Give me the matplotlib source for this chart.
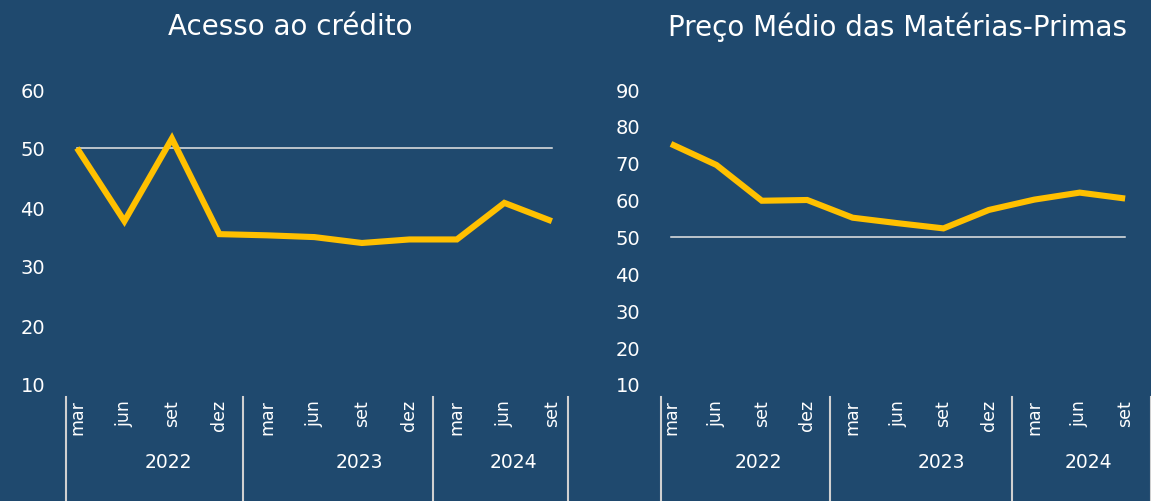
import matplotlib
matplotlib.use("Agg")
import matplotlib.pyplot as plt
from matplotlib.transforms import blended_transform_factory

months = ["mar", "jun", "set", "dez", "mar", "jun", "set", "dez", "mar", "jun", "set"]
years = ["2022", "2023", "2024"]
credito = [50.0, 37.6, 51.6, 35.4, 35.2, 34.9, 33.9, 34.5, 34.5, 40.7, 37.6]
materias = [75.1, 69.4, 59.7, 59.9, 55.1, 53.6, 52.2, 57.2, 60.0, 61.9, 60.3]
threshold = [50] * len(months)

BG = "#1F496E"
YEL = "#FFC000"
FG = "#FFFFFF"
SEP = "#D0D0D0"

fig = plt.figure(figsize=(11.51, 5.02), dpi=100, facecolor=BG)

H = 502.0
W = 1151.0
bot = 1 - 385 / H
top = 1 - 90 / H

panels = [
    dict(title="Acesso ao crédito", data=credito, ylim=(10, 60), yt=range(10, 61, 10),
         left=66, right=568, x0=-0.23, x1=10.34, tx=290),
    dict(title="Preço Médio das Matérias-Primas", data=materias, ylim=(10, 90), yt=range(10, 91, 10),
         left=661, right=1151, x0=-0.22, x1=10.57, tx=898),
]

for p in panels:
    ax = fig.add_axes([p["left"] / W, bot, (p["right"] - p["left"]) / W, top - bot])
    ax.set_facecolor(BG)
    x = list(range(len(months)))
    ax.plot(x, threshold, color="#E6E6E6", lw=1.1, zorder=2)
    ax.plot(x, p["data"], color=YEL, lw=4.4, solid_joinstyle="miter", solid_capstyle="butt", zorder=3)
    ax.set_xlim(p["x0"], p["x1"])
    ax.set_ylim(*p["ylim"])
    ax.set_yticks(list(p["yt"]))
    ax.tick_params(axis="y", length=0, pad=15, labelsize=14, labelcolor=FG)
    ax.set_xticks(x)
    ax.set_xticklabels(months, rotation=90, fontsize=12.5, color=FG, va="top")
    ax.tick_params(axis="x", length=0, pad=11)
    for s in ax.spines.values():
        s.set_visible(False)
    tr = blended_transform_factory(ax.transData, fig.transFigure)
    for sx in [p["x0"], 3.5, 7.5, p["x1"]]:
        ax.plot([sx, sx], [1 - 398 / H, 0], color=SEP, lw=1.5, transform=tr, clip_on=False)
    for yc, yl in zip([1.93, 5.95, 9.2], years):
        ax.text(yc, 1 - 463 / H, yl, transform=tr, ha="center", va="center", fontsize=13.5, color=FG)
    fig.text(p["tx"] / W, 1 - 27 / H, p["title"], ha="center", va="center", fontsize=20, color=FG)

fig.savefig("out.png", dpi=100, facecolor=BG)
